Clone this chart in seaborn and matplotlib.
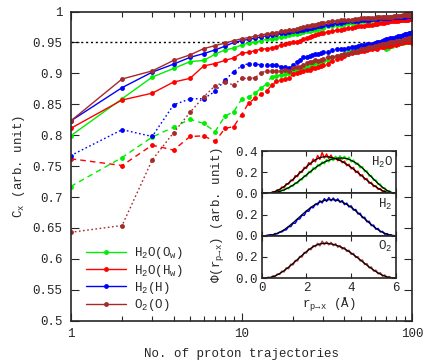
import numpy as np
import pandas as pd
import seaborn as sns
import matplotlib
matplotlib.use("Agg")
import matplotlib.pyplot as plt
from matplotlib.ticker import FixedLocator, FuncFormatter, LogLocator, NullFormatter

# number of proton trajectories (x axis)
n_traj = list(range(1, 31)) + list(range(32, 101, 2))

# solid lines (with legend)
ow_solid = [.799, .859, .894, .908, .919, .921, .931, .938, .941, .946,
            .949, .951, .953, .955, .956, .958, .959, .961, .962, .963,
            .964, .966, .967, .968, .969, .970, .971, .972, .973, .974,
            .976, .977, .978, .979, .980, .981, .982, .982, .983, .984,
            .984, .985, .985, .986, .986, .987, .987, .987, .988, .988,
            .988, .989, .989, .989, .990, .990, .990, .990, .991, .991,
            .991, .991, .992, .992, .992]
hw_solid = [.811, .857, .868, .886, .892, .912, .916, .921, .925, .933,
            .934, .937, .939, .940, .941, .943, .946, .947, .949, .950,
            .951, .953, .955, .957, .959, .960, .962, .963, .965, .966,
            .967, .968, .970, .971, .972, .973, .974, .975, .976, .976,
            .977, .978, .978, .979, .980, .980, .981, .982, .982, .983,
            .983, .984, .984, .985, .985, .985, .986, .986, .986, .987,
            .987, .987, .988, .988, .988]
h2_solid = [.823, .877, .902, .915, .926, .932, .938, .944, .950, .953,
            .955, .957, .959, .961, .962, .963, .965, .966, .967, .968,
            .969, .970, .971, .972, .973, .974, .975, .976, .977, .978,
            .979, .980, .981, .982, .983, .984, .984, .985, .985, .986,
            .986, .987, .987, .988, .988, .988, .989, .989, .989, .990,
            .990, .990, .991, .991, .991, .991, .992, .992, .992, .992,
            .993, .993, .993, .993, .994]
o2_solid = [.823, .891, .904, .921, .930, .940, .945, .949, .953, .956,
            .958, .960, .962, .964, .965, .966, .968, .969, .970, .971,
            .972, .973, .975, .976, .977, .978, .979, .980, .981, .982,
            .983, .984, .985, .986, .986, .987, .987, .988, .988, .989,
            .989, .989, .990, .990, .990, .991, .991, .991, .991, .992,
            .992, .992, .992, .993, .993, .993, .993, .993, .994, .994,
            .994, .994, .994, .994, .995]

# dashed / dotted lines
ow_dash = [.717, .764, .797, .813, .826, .819, .806, .831, .838, .858,
           .862, .868, .876, .883, .895, .896, .898, .899, .901, .904,
           .906, .908, .909, .910, .911, .914, .917, .917, .919, .920,
           .922, .926, .928, .930, .932, .934, .936, .937, .939, .940,
           .941, .942, .942, .943, .944, .945, .944, .946, .942, .940,
           .941, .944, .945, .947, .948, .947, .949, .950, .949, .951,
           .950, .952, .951, .953, .952]
hw_dash = [.762, .751, .784, .776, .798, .799, .790, .811, .814, .833,
           .852, .860, .866, .871, .881, .887, .890, .891, .892, .899,
           .901, .903, .904, .905, .906, .908, .909, .911, .912, .913,
           .915, .920, .923, .925, .928, .931, .933, .934, .935, .936,
           .937, .938, .939, .940, .941, .940, .942, .943, .942, .944,
           .945, .944, .946, .947, .946, .948, .950, .949, .951, .950,
           .952, .951, .953, .950, .949]
h2_dot = [.767, .809, .798, .849, .859, .859, .871, .889, .903, .912,
          .916, .915, .914, .914, .913, .913, .911, .910, .908, .913,
          .918, .922, .926, .927, .928, .930, .931, .931, .933, .934,
          .935, .938, .939, .939, .940, .941, .942, .943, .944, .946,
          .946, .947, .948, .948, .949, .950, .951, .953, .954, .955,
          .956, .957, .957, .958, .959, .960, .961, .961, .962, .963,
          .963, .964, .965, .966, .967]
o2_dot = [.643, .654, .760, .804, .837, .862, .880, .886, .881, .892,
          .892, .893, .901, .904, .904, .904, .904, .905, .904, .908,
          .910, .911, .914, .917, .919, .918, .921, .920, .922, .924,
          .926, .927, .928, .929, .931, .932, .934, .935, .937, .939,
          .940, .941, .942, .943, .944, .945, .946, .947, .947, .948,
          .949, .950, .950, .951, .952, .952, .953, .953, .954, .955,
          .955, .956, .957, .957, .958]

# inset: fitted curves (r = 0..6, step 0.2) and histograms (r = 0.2..5.8, step 0.1)
r_fit = np.round(np.arange(0, 6.01, 0.2), 1)
r_data = np.round(np.arange(0.2, 5.85, 0.1), 1)

hw_fit = [0.000, 0.000, 0.005, 0.018, 0.038, 0.065, 0.097, 0.133, 0.172, 0.212, 0.252,
          0.288, 0.318, 0.338, 0.347, 0.345, 0.335, 0.320, 0.300, 0.275, 0.245,
          0.212, 0.178, 0.143, 0.108, 0.076, 0.048, 0.025, 0.009, 0.002, 0.000]
ow_fit = [0.000, 0.000, 0.002, 0.008, 0.018, 0.033, 0.053, 0.078, 0.107, 0.140, 0.175,
          0.210, 0.243, 0.272, 0.296, 0.314, 0.326, 0.333, 0.334, 0.330, 0.312,
          0.290, 0.258, 0.220, 0.178, 0.135, 0.094, 0.057, 0.028, 0.009, 0.001]
h2_fit = [0.000, 0.000, 0.004, 0.014, 0.032, 0.056, 0.087, 0.122, 0.160, 0.198, 0.235,
          0.268, 0.296, 0.318, 0.333, 0.340, 0.340, 0.333, 0.318, 0.296, 0.268,
          0.235, 0.198, 0.160, 0.122, 0.087, 0.056, 0.032, 0.014, 0.004, 0.000]
o2_fit = [0.000, 0.000, 0.006, 0.020, 0.042, 0.070, 0.102, 0.138, 0.176, 0.214, 0.250,
          0.282, 0.307, 0.322, 0.328, 0.326, 0.318, 0.305, 0.287, 0.264, 0.236,
          0.205, 0.172, 0.138, 0.105, 0.075, 0.048, 0.026, 0.010, 0.002, 0.000]

hw_data = [.000, .006, .002, .016, .012, .034, .030, .060, .052, .092,
           .088, .126, .120, .168, .158, .206, .198, .246, .236, .290,
           .272, .325, .298, .358, .322, .385, .335, .372, .330, .362,
           .318, .345, .308, .330, .290, .305, .262, .275, .232, .245,
           .198, .210, .165, .175, .130, .140, .095, .104, .064, .072,
           .038, .046, .016, .024, .004, .010, .001]
ow_data = [.000, .003, .000, .008, .004, .018, .012, .032, .026, .052,
           .044, .074, .068, .100, .094, .134, .128, .168, .160, .204,
           .196, .242, .228, .270, .258, .298, .280, .320, .298, .340,
           .310, .350, .322, .355, .322, .350, .316, .342, .298, .315,
           .275, .285, .242, .252, .205, .212, .164, .168, .124, .126,
           .086, .088, .050, .052, .022, .024, .006]
h2_data = [.002, .006, .010, .006, .020, .018, .034, .036, .052, .056,
           .086, .086, .118, .118, .156, .158, .194, .192, .234, .230,
           .268, .264, .298, .292, .330, .310, .350, .324, .360, .330,
           .356, .326, .348, .316, .332, .294, .308, .272, .282, .242,
           .248, .206, .212, .170, .174, .132, .136, .096, .100, .062,
           .068, .036, .040, .014, .020, .002, .008]
o2_data = [.000, .008, .002, .020, .014, .038, .034, .064, .058, .096,
           .088, .130, .124, .166, .162, .204, .198, .242, .236, .276,
           .268, .306, .296, .328, .304, .348, .316, .342, .314, .336,
           .306, .324, .292, .306, .274, .288, .252, .262, .224, .232,
           .194, .202, .162, .170, .128, .136, .096, .104, .066, .074,
           .040, .050, .018, .028, .004, .014, .001]

GREEN, RED, BLUE, BROWN = "#00ee00", "#ff0000", "#0000ff", "#a52a2a"

sns.set_style("ticks")
plt.rcParams["font.family"] = ["Liberation Mono", "DejaVu Sans"]
plt.rcParams["mathtext.default"] = "regular"
plt.rcParams["font.size"] = 9

fig = plt.figure(figsize=(4.36, 3.62), dpi=100)
ax = fig.add_axes([0.162, 0.114, 0.784, 0.854])

ax.axhline(0.95, color="black", lw=1.0, ls=(0, (1.5, 2)), zorder=1)

# secondary (dashed / dotted) curves
dashed = [(ow_dash, GREEN, (0, (4, 3))), (hw_dash, RED, (0, (4, 3))),
          (h2_dot, BLUE, (0, (1.2, 1.8))), (o2_dot, BROWN, (0, (1.2, 1.8)))]
for vals, col, ls in dashed:
    sns.lineplot(x=n_traj, y=vals, ax=ax, color=col, lw=1.0, linestyle=ls,
                 marker="o", markersize=3.5, markeredgewidth=0, estimator=None)

solid = [("H$_2$O(O$_w$)", ow_solid, GREEN), ("H$_2$O(H$_w$)", hw_solid, RED),
         ("H$_2$(H)", h2_solid, BLUE), ("O$_2$(O)", o2_solid, BROWN)]
for lab, vals, col in solid:
    sns.lineplot(x=n_traj, y=vals, ax=ax, color=col, lw=1.0, marker="o",
                 markersize=3.5, markeredgewidth=0, estimator=None, label=lab)

ax.set_xscale("log")
ax.set_xlim(1, 100)
ax.set_ylim(0.5, 1.0)
ax.xaxis.set_major_locator(FixedLocator([1, 10, 100]))
ax.xaxis.set_major_formatter(FuncFormatter(lambda v, p: f"{v:g}"))
ax.xaxis.set_minor_locator(LogLocator(base=10, subs=np.arange(2, 10)))
ax.xaxis.set_minor_formatter(NullFormatter())
ax.set_yticks(np.arange(0.5, 1.001, 0.05))
ax.yaxis.set_major_formatter(FuncFormatter(lambda v, p: f"{round(v, 2):g}"))
ax.tick_params(which="both", direction="in", top=True, right=True, width=0.8)
ax.tick_params(which="major", length=5.5)
ax.tick_params(which="minor", length=3.3)
ax.tick_params(axis="y", pad=6)
ax.tick_params(axis="x", pad=5)
for s in ax.spines.values():
    s.set_linewidth(1.2)
ax.set_xlabel("No. of proton trajectories", labelpad=6)
ax.set_ylabel("C$_x$ (arb. unit)", labelpad=4)

handles, labels = ax.get_legend_handles_labels()
ax.legend(handles[-4:], labels[-4:], loc="lower left", bbox_to_anchor=(0.045, 0.025),
          frameon=False, handlelength=3.2, handletextpad=0.6, labelspacing=0.1,
          borderaxespad=0, borderpad=0, fontsize=9)

# inset with three stacked panels
left, width, h = 0.6002, 0.308, 0.1169
panels = [
    (0.2320 + 2 * h, [(hw_data, RED, hw_fit), (ow_data, GREEN, ow_fit)], "H$_2$O"),
    (0.2320 + h, [(h2_data, BLUE, h2_fit)], "H$_2$"),
    (0.2320, [(o2_data, "#b03a3a", o2_fit)], "O$_2$"),
]
for i, (bottom, curves, name) in enumerate(panels):
    ia = fig.add_axes([left, bottom, width, h])
    ia.set_facecolor("white")
    for data, col, fit in curves:
        sns.lineplot(x=r_data, y=data, ax=ia, color=col, lw=1.1, estimator=None)
    for data, col, fit in curves:
        sns.lineplot(x=r_fit, y=fit, ax=ia, color="black", lw=0.9, estimator=None)
    ia.set_xlim(0, 6)
    ia.set_ylim(0, 0.4)
    ia.set_xticks([0, 2, 4, 6])
    ia.set_yticks([0, 0.2, 0.4])
    ia.set_yticklabels(["0.0", "0.2", "0.4" if i == 0 else ""])
    if i < 2:
        ia.set_xticklabels([])
    ia.tick_params(direction="in", top=True, right=True, length=3.5, width=0.8, pad=3)
    for s in ia.spines.values():
        s.set_linewidth(1.2)
    ia.text(0.975, 0.74, name, transform=ia.transAxes, ha="right", va="center")

fig.text(217 / 436, 1 - 214.5 / 362, "Φ(r$_{p→x}$) (arb. unit)", rotation=90,
         ha="center", va="center")
fig.text(329 / 436, 1 - 305 / 362, "r$_{p→x}$ (Å)", ha="center", va="center")

fig.savefig("out.png", dpi=100)
